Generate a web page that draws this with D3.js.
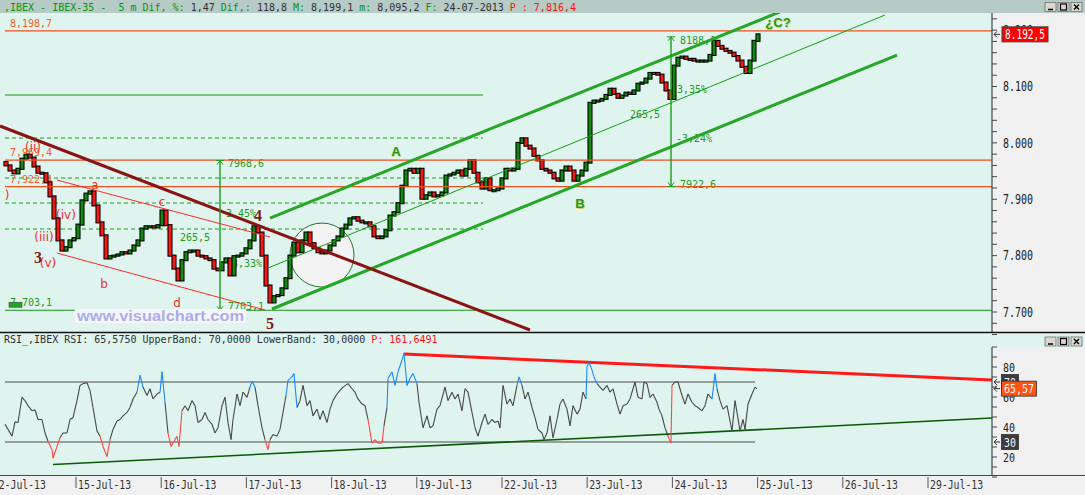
<!DOCTYPE html>
<html>
<head>
<meta charset="utf-8">
<script src="https://cdn.jsdelivr.net/npm/d3@7"></script>
<style>
body { margin: 0; background: #dff4ee; overflow: hidden; }
svg { display: block; }
text { white-space: pre; }
</style>
</head>
<body>
<svg id="chart"></svg>
<script>
// ---- data ----
const dayLabels = ['12-Jul-13','15-Jul-13','16-Jul-13','17-Jul-13','18-Jul-13','19-Jul-13','22-Jul-13','23-Jul-13','24-Jul-13','25-Jul-13','26-Jul-13','29-Jul-13']

const firstOpen = 7966
const closes = [
  7960,7951,7946,7954,7972,7979,7974,7958,7947,7946,7930,7905,7866,7827,7809,7815,7827,7831,7855,7898,
  7910,7914,7889,7859,7836,7795,7799,7800,7802,7806,7804,7809,7818,7827,7848,7852,7852,7850,7854,7880,
  7854,7800,7777,7756,7792,7806,7809,7809,7800,7799,7795,7792,7777,7774,7788,7795,7765,7799,7800,7804,
  7813,7827,7852,7841,7800,7747,7717,7728,7730,7742,7760,7800,7823,7806,7827,7841,7822,7813,7806,7804,
  7809,7818,7827,7834,7848,7855,7866,7868,7862,7859,7859,7852,7834,7831,7834,7845,7871,7877,7893,7924,
  7951,7954,7947,7954,7901,7907,7912,7905,7907,7912,7942,7944,7947,7951,7942,7954,7969,7947,7930,7919,
  7937,7916,7916,7919,7937,7954,7951,7954,8000,8008,7995,7990,7977,7969,7954,7951,7947,7937,7933,7951,
  7958,7951,7933,7942,7951,7965,8071,8075,8075,8078,8085,8096,8087,8080,8084,8089,8087,8093,8105,8107,
  8114,8124,8124,8121,8107,8093,8078,8137,8151,8153,8149,8149,8146,8146,8146,8146,8156,8181,8172,8167,
  8163,8160,8154,8146,8135,8124,8146,8181,8192.5
]

// [bar position, RSI]
const rsiPoints = [
  [-0.25,41.8],[0.5,38.4],[1.5,33.9],[2.25,43.4],[3,43],[4,59.8],[4.75,57.6],[5.5,54.2],[6.5,50.8],[7.25,51.5],
  [8,45],[9,45],[9.75,36],[10.5,30.5],[11.5,25],[11.75,19.2],[12.75,27],[13.5,32.8],[14.25,36],[15.25,36],
  [16,45],[16.75,46.3],[17.75,57.6],[18.5,67.7],[19.25,68.9],[20.25,69.5],[21,64.4],[21.75,53],[22.75,37.3],[23.5,33.9],
  [24.25,27],[25.25,20.3],[26,31.6],[26.75,38.4],[27.75,44],[28.5,45],[29.25,47.4],[30.25,49.7],[31,53],[31.75,58.7],
  [32.75,63.2],[33.5,74.5],[34.25,66.6],[35.25,61],[36,65.5],[36.75,58.7],[37.75,62],[38.5,63.2],[39,76.8],[39.75,56.5],
  [40.5,36],[41.25,27],[41.75,29.3],[42.75,33.8],[43.25,27],[44,50.8],[44.75,54.2],[45.5,50.8],[46.5,57.6],[47.25,54.2],
  [48,43],[49,45],[49.75,49.7],[50.5,45],[51.5,41.8],[52.25,36],[53,39.5],[54,54.2],[54.75,59.8],[55.5,43],
  [56.25,31.6],[56.75,45],[57.75,62],[58.5,54.2],[59.25,63.2],[60.25,59.8],[61,66.6],[61.5,70.5],[62.25,66.6],[63,54.2],
  [64,39.5],[64.75,31.6],[65.5,25],[66,31.6],[66.75,35],[67.75,33.9],[68.5,38.4],[69.25,49.7],[70,61],[70.5,71.1],
  [71.5,73.4],[72,75.6],[72.75,53],[73.5,57.6],[74.25,67.7],[75.25,54.2],[76,57.6],[76.75,47.4],[77.75,51.9],[78.5,45],
  [79.25,50.8],[80.25,43],[81,51.9],[81.75,57.6],[82.75,62],[83.5,64.4],[84.25,66.6],[85.5,68.9],[86.5,65.5],[87.25,63.2],
  [88,58.7],[89,55.3],[89.75,54.2],[90.5,45],[91.5,29.3],[92.25,31.6],[93,29.3],[94,29.3],[94.5,40.7],[95.25,53],
  [95.5,72.3],[96.5,76.8],[97.25,67.7],[98,76.8],[99,84.7],[99.5,89.2],[100.25,67.7],[101,72.3],[101.75,75.6],[102.75,68.9],
  [103.25,56.5],[104.25,39.5],[105.25,47.4],[106,39.5],[106.75,40.7],[107.75,51.9],[108.5,54.2],[109.75,66.6],[110.5,57.6],[111.5,63.2],
  [112.25,58.7],[113,62],[114,50.8],[114.75,65.5],[115.5,63.2],[116.5,49.7],[117.25,39.5],[118,33.9],[119,43],[119.75,48.6],
  [120.5,41.8],[121.5,45],[122.25,43],[123,44],[123.5,39.5],[124.25,67.7],[125.25,55.3],[126,58.7],[126.75,54.2],[127.75,67.7],
  [128.25,73.4],[129,67.7],[129.75,58.7],[130.5,63.2],[131.5,53],[132.25,46.3],[133,38.4],[134,36],[134.5,31.6],[135.25,36],
  [136,47.4],[136.75,32.8],[137.75,45],[138.5,55.3],[139.25,58.7],[140.25,51.9],[141,40.7],[141.75,54.2],[142.75,48.6],[143.5,51.9],
  [144.25,63.2],[145,58.7],[145.25,80.2],[145.75,83.1],[146.5,77.9],[147,73.4],[147.75,68.9],[148.5,66.6],[149.25,64.4],[150.25,67.7],
  [151,63.2],[151.75,65.5],[152.75,55.3],[153.5,48.6],[154.25,54.2],[155.25,55.3],[156,58.7],[156.75,65.5],[157.25,70],[158,59.8],
  [159,58.7],[159.5,70],[160.25,68.9],[161,59.8],[161.75,62],[162.75,56.5],[163.25,51.9],[164,47.4],[164.75,39.5],[165.5,33.9],
  [166.25,29.3],[166.5,67.7],[167.25,70],[168,70],[169,61],[169.75,55.3],[170.5,62],[171.5,56.5],[172.25,54.2],[173,53],
  [174,50.8],[174.75,54.2],[175.5,62],[176.5,58.7],[177.25,75.6],[177.75,65.5],[178.5,57.6],[179.25,51.9],[180.25,54.2],[181,44],
  [181.5,37.3],[182.25,57.6],[182.75,49.7],[183.5,37.3],[184.25,45],[184.75,38.4],[185.5,55.3],[186.5,62],[187.25,66.6],[187.75,65.57]
]

const priceLabels = [7700, 7800, 7900, 8000, 8100, 8200]
const rsiLabels = [20, 40, 60, 80]
const lastPrice = 8192.5, lastRsi = 65.57, upperBand = 70, lowerBand = 30

const orangeLevels = [8198.7, 7969.4, 7922.4]
const dashedLevels = [8008.6, 7937.7, 7893.3, 7847.2]
const solidLevel = 8084.9
const lowLevel = 7703.1

// trend lines: [bar1, price1, bar2, price2, style]
const trendLines = [
  [12.75, 7934.1, 66, 7833, 'redThin'],
  [12.75, 7804.6, 64.75, 7703.5, 'redThin'],
  [66, 7866.7, 194, 8233.9, 'greenThick'],
  [66.5, 7705.3, 222.75, 8155.8, 'greenThick'],
  [65.5, 7778, 219.75, 8226.8, 'greenThin'],
  [-1.5, 8029.9, 131, 7668.1, 'maroon']
]
// vertical measures: [bar, top, bottom]
const measures = [[53.5, 7968.6, 7703.1], [166.25, 8188.1, 7922.6]]
const circleNote = [79, 7801]

const waveLabels = [
  ['(ii)', 6.75, 7992.7, 'wave'], ['(iii)', 9.5, 7833, 'wave'], ['(iv)', 15, 7872, 'wave'], ['(v)', 10.5, 7787, 'wave'],
  [')', 0.25, 7907.5, 'wave'], ['a', 22.25, 7925.3, 'wave'], ['b', 24.5, 7749.7, 'wave'], ['c', 39, 7895.1, 'wave'],
  ['d', 42.75, 7716, 'wave'], ['3', 8, 7797.6, 'big'], ['4', 63, 7872, 'big'], ['5', 66, 7680.5, 'big'],
  ['A', 97.5, 7985.6, 'abc'], ['B', 143.5, 7893.3, 'abc'], ['¿C?', 193, 8214.4, 'abc']
]
const measureLabels = [
  ['7968,6', 55.5, 7964.3], ['7703,1', 55.5, 7708.9], ['265,5', 43.5, 7831.3], ['3,45%', 55, 7875.6], ['3,33%', 56.5, 7786.9],
  ['8188,1', 168.5, 8182.4], ['7922,6', 168.5, 7927], ['265,5', 156, 8051.2], ['3,35%', 167.75, 8093.8], ['-3,24%', 167.5, 8006.9]
]
const levelLabels = [['8,198,7', 8198.7, '#ff5a1e'], ['7,969,4', 7969.4, '#ff5a1e'], ['7,922,4', 7922.4, '#ff5a1e'], ['7,703,1', 7703.1, '#1f9a1f']]

const titleParts = [
  [',IBEX - IBEX-35 -  5 m Dif, %: ', '#109010'], ['1,47 ', '#303030'], ['Dif,: ', '#109010'], ['118,8 ', '#303030'],
  ['M: ', '#109010'], ['8,199,1 ', '#303030'], ['m: ', '#109010'], ['8,095,2 ', '#303030'], ['F: ', '#109010'],
  ['24-07-2013 ', '#303030'], ['P : 7,816,4', '#ff1010']
]
const rsiTitleParts = [['RSI_,IBEX RSI: 65,5750 UpperBand: 70,0000 LowerBand: 30,0000 ', '#303030'], ['P: 161,6491', '#ff1010']]

// ---- layout ----
const W = 1085, H = 495
const axisX = 992, titleH = 13, mainBottom = 332, rsiAxisTop = 347, xAxisTop = 475
const dayOffset = -3.8, barsPerDay = 21.3
const mono = 'DejaVu Sans Mono, monospace'

let svg = d3.select('#chart').attr('width', W).attr('height', H)

let x = d3.scaleLinear().domain([0, 188]).range([6, 758])
let dayX = k => x(dayOffset + k * barsPerDay)
let y = d3.scaleLinear().domain([7700, 8100]).range([312, 86.5])
let yr = d3.scaleLinear().domain([lowerBand, upperBand]).range([442, 382])

// backgrounds
svg.append('rect').attr('width', W).attr('height', H).attr('fill', '#dff4ee')
svg.append('rect').attr('width', W).attr('height', titleH).attr('fill', '#b6cbc6')
svg.append('rect').attr('x', axisX).attr('y', titleH).attr('width', W - axisX).attr('height', mainBottom - titleH).attr('fill', '#f0f0f0')
svg.append('rect').attr('x', axisX).attr('y', rsiAxisTop).attr('width', W - axisX).attr('height', xAxisTop - rsiAxisTop).attr('fill', '#f0f0f0')
svg.append('rect').attr('x', 0).attr('y', xAxisTop).attr('width', W).attr('height', H - xAxisTop).attr('fill', '#f0f0f0')

let defs = svg.append('defs')
defs.append('clipPath').attr('id', 'mainClip').append('rect')
  .attr('x', 0).attr('y', titleH).attr('width', axisX).attr('height', mainBottom - titleH)
defs.append('clipPath').attr('id', 'rsiClip').append('rect')
  .attr('x', 0).attr('y', 346).attr('width', axisX).attr('height', xAxisTop - 346)

// title bar
let title = svg.append('text').attr('x', 4).attr('y', 10.5).style('font-family', mono).style('font-size', '10px')
titleParts.forEach(p => title.append('tspan').text(p[0]).attr('fill', p[1]))

const windowButtons = (top) => {
  let bg = svg.append('g').attr('transform', `translate(1045,${top})`)
  ;[0, 13, 26].forEach((dx, i) => {
    bg.append('rect').attr('x', dx).attr('y', 0).attr('width', 11).attr('height', 9)
      .attr('fill', '#d8d8d0').attr('stroke', '#707070').attr('stroke-width', 0.8)
    if (i == 0) bg.append('line').attr('x1', dx + 3).attr('x2', dx + 8).attr('y1', 7).attr('y2', 7).attr('stroke', '#000').attr('stroke-width', 1.5)
    if (i == 1) bg.append('rect').attr('x', dx + 2.5).attr('y', 1.5).attr('width', 6).attr('height', 6).attr('fill', 'none').attr('stroke', '#000').attr('stroke-width', 1.2)
    if (i == 2) bg.append('path').attr('d', `M${dx + 3},2L${dx + 8},7M${dx + 8},2L${dx + 3},7`).attr('stroke', '#000').attr('stroke-width', 1.4)
  })
}
windowButtons(2.5)

// ---- main price panel ----
let g = svg.append('g').attr('clip-path', 'url(#mainClip)')

let hline = (p, x2, color, width, dash) => g.append('line')
  .attr('x1', x(-0.25)).attr('x2', x2).attr('y1', y(p)).attr('y2', y(p))
  .attr('stroke', color).attr('stroke-width', width).attr('stroke-dasharray', dash || null)

dashedLevels.forEach(p => hline(p, x(119.25), '#18a018', 1, '4,3'))
hline(solidLevel, x(119.25), '#1a961a', 1.2)
hline(lowLevel, axisX, '#1a961a', 1.2)

g.append('circle').attr('cx', x(circleNote[0])).attr('cy', y(circleNote[1])).attr('r', 32)
  .attr('fill', '#f2f3f2').attr('stroke', '#2e6e2e').attr('stroke-width', 1)

// labels sitting under the candles
levelLabels.forEach(l => {
  g.append('text').text(l[0]).attr('x', 10).attr('y', y(l[1]) - 4)
    .attr('fill', l[2]).style('font-family', mono).style('font-size', '10px')
})
g.append('rect').attr('x', 9).attr('y', y(lowLevel) - 8).attr('width', 13).attr('height', 5)
  .attr('fill', '#2aa02a').attr('stroke', '#335533').attr('stroke-width', 0.6)

measureLabels.forEach(l => {
  g.append('text').text(l[0]).attr('x', x(l[1])).attr('y', y(l[2])).attr('dy', '0.35em')
    .attr('fill', '#1e9a1e').style('font-family', mono).style('font-size', '10px')
})

const waveStyle = {
  wave: { fill: '#f03030', size: '12px', weight: 'normal', family: 'DejaVu Sans, sans-serif' },
  big: { fill: '#7a1c1c', size: '16px', weight: 'bold', family: 'Liberation Serif, serif' },
  abc: { fill: '#1c9a1c', size: '13px', weight: 'bold', family: 'Liberation Sans, sans-serif' }
}
waveLabels.forEach(l => {
  let s = waveStyle[l[3]]
  if (l[3] == 'abc') {
    g.append('text').text(l[0]).attr('x', x(l[1]) + 1).attr('y', y(l[2]) + 1).attr('dy', '0.35em')
      .attr('text-anchor', 'middle').attr('fill', '#d8d070').style('font-family', s.family)
      .style('font-size', s.size).style('font-weight', s.weight)
  }
  g.append('text').text(l[0]).attr('x', x(l[1])).attr('y', y(l[2])).attr('dy', '0.35em')
    .attr('text-anchor', 'middle').attr('fill', s.fill).style('font-family', s.family)
    .style('font-size', s.size).style('font-weight', s.weight)
})

// candles
let candles = closes.map((c, i) => ({ i, o: i ? closes[i - 1] : firstOpen, c }))
g.selectAll('rect.candle').data(candles).enter().append('rect')
  .attr('class', 'candle')
  .attr('x', d => x(d.i) - 2)
  .attr('width', 4)
  .attr('y', d => y(Math.max(d.o, d.c)) - 0.5)
  .attr('height', d => Math.max(2, Math.abs(y(d.o) - y(d.c)) + 1))
  .attr('fill', d => d.c >= d.o ? '#0c8c0c' : '#ff1414')
  .attr('stroke', '#000').attr('stroke-width', 1.1)

// lines over the candles
orangeLevels.forEach(p => hline(p, axisX, '#ee5020', 1.2))

const lineStyle = {
  redThin: ['#ff2a2a', 1], greenThin: ['#14a014', 1],
  greenThick: ['#26a626', 3], maroon: ['#8a1414', 3]
}
trendLines.forEach(t => {
  g.append('line').attr('x1', x(t[0])).attr('y1', y(t[1])).attr('x2', x(t[2])).attr('y2', y(t[3]))
    .attr('stroke', lineStyle[t[4]][0]).attr('stroke-width', lineStyle[t[4]][1])
})

measures.forEach(m => {
  let mx = x(m[0]), top = y(m[1]), bot = y(m[2])
  g.append('line').attr('x1', mx).attr('x2', mx).attr('y1', top).attr('y2', bot)
    .attr('stroke', '#1e9a1e').attr('stroke-width', 1.4)
  g.append('path').attr('d', `M${mx - 4},${top}H${mx + 4}M${mx - 3},${top + 4}L${mx},${top}L${mx + 3},${top + 4}`)
    .attr('fill', 'none').attr('stroke', '#1e9a1e').attr('stroke-width', 1)
  g.append('path').attr('d', `M${mx - 4},${bot}H${mx + 4}M${mx - 3},${bot - 4}L${mx},${bot}L${mx + 3},${bot - 4}`)
    .attr('fill', 'none').attr('stroke', '#1e9a1e').attr('stroke-width', 1)
})

// watermark
svg.append('rect').attr('x', 75).attr('y', 309).attr('width', 171).attr('height', 14).attr('fill', '#f6f6ff')
svg.append('text').text('www.visualchart.com').attr('x', 77).attr('y', 321)
  .attr('fill', '#a9aee8').style('font-family', 'Liberation Sans, Arial, sans-serif')
  .style('font-size', '14px').style('font-weight', 'bold')
  .attr('textLength', 167).attr('lengthAdjust', 'spacingAndGlyphs')

// price axis
svg.append('line').attr('x1', axisX).attr('x2', axisX).attr('y1', titleH).attr('y2', mainBottom).attr('stroke', '#404848').attr('stroke-width', 1.2)
let minorPrice = d3.range(7660, 8221, 20)
svg.selectAll('line.ptick').data(minorPrice).enter().append('line')
  .attr('x1', axisX).attr('x2', axisX + 5).attr('y1', d => y(d)).attr('y2', d => y(d))
  .attr('stroke', '#404848').attr('stroke-width', 1)
svg.selectAll('text.plabel').data(priceLabels).enter().append('text')
  .text(d => d3.format(',')(d).replace(',', '.'))
  .attr('x', 1003).attr('y', d => y(d)).attr('dy', '0.36em')
  .attr('fill', '#222').style('font-family', mono).style('font-size', '13.5px')
  .attr('textLength', 30).attr('lengthAdjust', 'spacingAndGlyphs')

const arrowAt = (yy) => svg.append('path').attr('d', `M1000,${yy}H994M997,${yy - 3}L994,${yy}L997,${yy + 3}`)
  .attr('fill', 'none').attr('stroke', '#333').attr('stroke-width', 1)

arrowAt(y(lastPrice))
svg.append('rect').attr('x', 1002).attr('y', y(lastPrice) - 7.5).attr('width', 46).attr('height', 15)
  .attr('fill', '#ff0000').attr('stroke', '#404040').attr('stroke-width', 1)
svg.append('text').text('8.192,5').attr('x', 1005).attr('y', y(lastPrice)).attr('dy', '0.36em')
  .attr('fill', '#fff').style('font-family', mono).style('font-size', '13.5px')
  .attr('textLength', 40).attr('lengthAdjust', 'spacingAndGlyphs')

// panel separator
svg.append('line').attr('x1', 0).attr('x2', W).attr('y1', mainBottom + 0.5).attr('y2', mainBottom + 0.5).attr('stroke', '#111').attr('stroke-width', 1.5)

// ---- RSI panel ----
let rt = svg.append('text').attr('x', 4).attr('y', 343).style('font-family', mono).style('font-size', '10px')
rsiTitleParts.forEach(p => rt.append('tspan').text(p[0]).attr('fill', p[1]))
windowButtons(337)

let rg = svg.append('g').attr('clip-path', 'url(#rsiClip)')
;[upperBand, lowerBand].forEach(v => {
  rg.append('line').attr('x1', x(-0.25)).attr('x2', x(187.25)).attr('y1', yr(v)).attr('y2', yr(v))
    .attr('stroke', '#4a4a4a').attr('stroke-width', 1.2)
})

// RSI trend lines: [bar1, rsi1, bar2, rsi2]
const rsiTrends = [[99.5, 88.6, 246.75, 71.3, '#ff1a1a', 3], [11.75, 15, 246.75, 46, '#0a5a0a', 1.6]]
rsiTrends.forEach(t => {
  rg.append('line').attr('x1', x(t[0])).attr('y1', yr(t[1])).attr('x2', x(t[2])).attr('y2', yr(t[3]))
    .attr('stroke', t[4]).attr('stroke-width', t[5])
})

let segs = d3.pairs(rsiPoints)
rg.selectAll('line.rsi').data(segs).enter().append('line')
  .attr('x1', d => x(d[0][0])).attr('y1', d => yr(d[0][1]))
  .attr('x2', d => x(d[1][0])).attr('y2', d => yr(d[1][1]))
  .attr('stroke', d => (d[0][1] > upperBand || d[1][1] > upperBand) ? '#1a88ff'
    : (d[0][1] < lowerBand || d[1][1] < lowerBand) ? '#ff4646' : '#484848')
  .attr('stroke-width', 1.1)

// RSI axis
svg.append('line').attr('x1', axisX).attr('x2', axisX).attr('y1', rsiAxisTop).attr('y2', xAxisTop).attr('stroke', '#404848').attr('stroke-width', 1.2)
let rsiTicks = d3.range(1, 15).map(k => 100 - k * 20 / 3)
svg.selectAll('line.rtick').data(rsiTicks).enter().append('line')
  .attr('x1', axisX).attr('x2', axisX + 5).attr('y1', d => yr(d)).attr('y2', d => yr(d))
  .attr('stroke', '#404848').attr('stroke-width', 1)
svg.selectAll('text.rlabel').data(rsiLabels).enter().append('text')
  .text(d => d).attr('x', 1003).attr('y', d => yr(d)).attr('dy', '0.36em')
  .attr('fill', '#222').style('font-family', mono).style('font-size', '13px')
  .attr('textLength', 12).attr('lengthAdjust', 'spacingAndGlyphs')

const rsiBox = (v, label, fill, w) => {
  arrowAt(yr(v))
  svg.append('rect').attr('x', 1001.5).attr('y', yr(v) - 7.5).attr('width', w).attr('height', 15)
    .attr('fill', fill).attr('stroke', '#303030').attr('stroke-width', 0.8)
  svg.append('text').text(label).attr('x', 1004).attr('y', yr(v)).attr('dy', '0.36em')
    .attr('fill', '#f4f4f4').style('font-family', mono).style('font-size', '13px')
    .attr('textLength', label.length * 6).attr('lengthAdjust', 'spacingAndGlyphs')
}
rsiBox(upperBand, '70', '#3c3c3c', 17)
rsiBox(lastRsi, '65,57', '#ff5414', 35)
rsiBox(lowerBand, '30', '#3c3c3c', 17)

// ---- date axis ----
svg.append('line').attr('x1', 0).attr('x2', W).attr('y1', xAxisTop + 0.5).attr('y2', xAxisTop + 0.5).attr('stroke', '#404848').attr('stroke-width', 1.2)
svg.selectAll('line.dtick').data(dayLabels).enter().append('line')
  .attr('x1', (d, i) => dayX(i)).attr('x2', (d, i) => dayX(i))
  .attr('y1', xAxisTop + 2).attr('y2', xAxisTop + 13)
  .attr('stroke', '#555').attr('stroke-width', 1)
svg.selectAll('text.dlabel').data(dayLabels).enter().append('text')
  .text(d => d).attr('x', (d, i) => dayX(i) + 2).attr('y', 489)
  .attr('fill', '#333').style('font-family', mono).style('font-size', '12.5px')
  .attr('textLength', d => d.length * 5.9).attr('lengthAdjust', 'spacingAndGlyphs')
</script>
</body>
</html>
